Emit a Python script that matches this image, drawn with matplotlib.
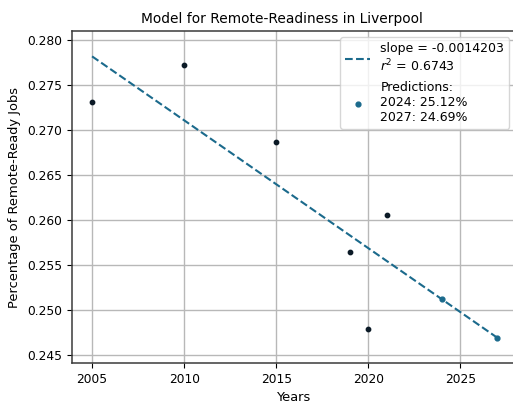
import matplotlib
matplotlib.use('Agg')
import matplotlib.pyplot as plt
import numpy as np

# observed data
years  = np.array([2005, 2010, 2015, 2019, 2020, 2021])
shares = np.array([0.2731, 0.2772, 0.2687, 0.2564, 0.2479, 0.2606])

# fit and predictions
slope = -0.0014203
r2    = 0.6743
pred_years  = np.array([2024, 2027])
pred_shares = np.array([0.2512, 0.24694])

line_x = np.array([2005, 2027])
line_y = pred_shares[0] + slope*(line_x - pred_years[0])

c_line = '#1b6a8c'
c_data = '#0b1a26'

fig = plt.figure(figsize=(5.13, 4.03), dpi=100)
ax = fig.add_axes([0.140, 0.099, 0.865, 0.824])

ax.grid(True, color='#b8b8b8', linewidth=1.0)
ax.set_axisbelow(True)

ax.scatter(years, shares, s=10, color=c_data, zorder=3)
ax.plot(line_x, line_y, '--', color=c_line, linewidth=1.5,
        label='slope = {}\n$r^2$ = {}'.format(slope, r2))
ax.scatter(pred_years, pred_shares, s=12, color=c_line, zorder=3,
           label='Predictions:\n' + '\n'.join('{}: {:.2f}%'.format(y, v*100)
                                              for y, v in zip(pred_years, pred_shares)))

ax.set_xlim(2003.9, 2028.0)
ax.set_ylim(0.24411, 0.2810)
ax.set_xticks([2005, 2010, 2015, 2020, 2025])
ax.set_yticks(np.arange(0.245, 0.2801, 0.005))
ax.yaxis.set_major_formatter(matplotlib.ticker.FormatStrFormatter('%.3f'))
ax.tick_params(labelsize=8.8)

for s in ax.spines:
    ax.spines[s].set_color('#3a3a3a')
    ax.spines[s].set_linewidth(1.1)

ax.set_title('Model for Remote-Readiness in Liverpool', fontsize=9.9, x=0.473)
ax.set_xlabel('Years', fontsize=9.4)
ax.set_ylabel('Percentage of Remote-Ready Jobs', fontsize=9.4)
ax.legend(loc='upper right', fontsize=9)

fig.savefig('out.png', dpi=100)
